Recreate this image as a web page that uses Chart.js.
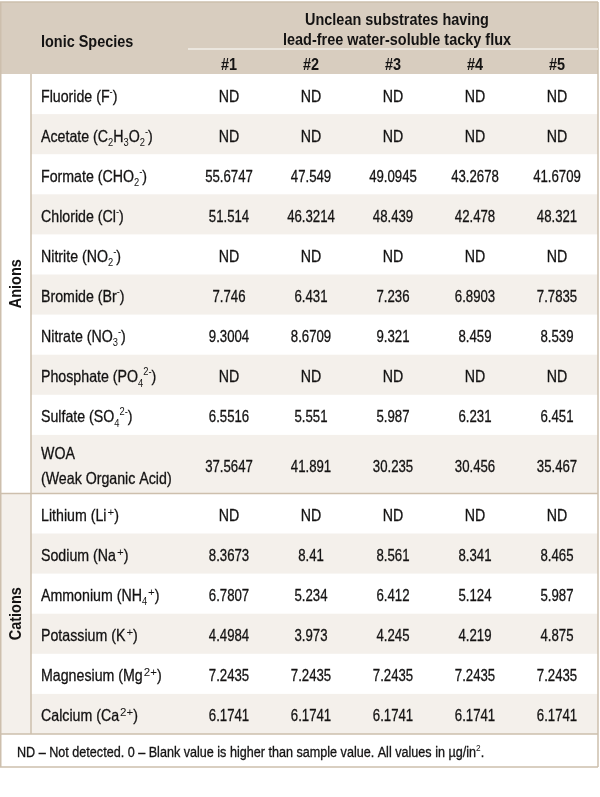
<!DOCTYPE html>
<html>
<head>
<meta charset="utf-8">
<title>Ionic species on unclean substrates</title>
<script src="https://cdn.jsdelivr.net/npm/chart.js@4.4.1/dist/chart.umd.min.js"></script>
<style>
  html, body { margin: 0; padding: 0; background: #fff; }
  #wrap { width: 600px; height: 797px; }
</style>
</head>
<body>
<div id="wrap"><canvas id="ionTable" width="600" height="797"></canvas></div>
<script>
// ---- data (ND = null) ----
const species = [
  'Fluoride (F^{-})', 'Acetate (C_{2}H_{3}O_{2}^{-})', 'Formate (CHO_{2}^{-})', 'Chloride (Cl^{-})',
  'Nitrite (NO_{2}^{-})', 'Bromide (Br^{-})', 'Nitrate (NO_{3}^{-})', 'Phosphate (PO_{4}^{2-})',
  'Sulfate (SO_{4}^{2-})', 'WOA\n(Weak Organic Acid)',
  'Lithium (Li^{+})', 'Sodium (Na^{+})', 'Ammonium (NH_{4}^{+})', 'Potassium (K^{+})',
  'Magnesium (Mg^{2+})', 'Calcium (Ca^{2+})'
];
const groups = ['Anions', 'Cations'];
const groupSizes = [10, 6];
const sampleLabels = ['#1', '#2', '#3', '#4', '#5'];
const sample1 = [null, null, 55.6747, 51.514, null, 7.746, 9.3004, null, 6.5516, 37.5647, null, 8.3673, 6.7807, 4.4984, 7.2435, 6.1741];
const sample2 = [null, null, 47.549, 46.3214, null, 6.431, 8.6709, null, 5.551, 41.891, null, 8.41, 5.234, 3.973, 7.2435, 6.1741];
const sample3 = [null, null, 49.0945, 48.439, null, 7.236, 9.321, null, 5.987, 30.235, null, 8.561, 6.412, 4.245, 7.2435, 6.1741];
const sample4 = [null, null, 43.2678, 42.478, null, 6.8903, 8.459, null, 6.231, 30.456, null, 8.341, 5.124, 4.219, 7.2435, 6.1741];
const sample5 = [null, null, 41.6709, 48.321, null, 7.7835, 8.539, null, 6.451, 35.467, null, 8.465, 5.987, 4.875, 7.2435, 6.1741];
const samples = [sample1, sample2, sample3, sample4, sample5];
const headerTitle = ['Unclean substrates having', 'lead-free water-soluble tacky flux'];
const footnote = 'ND \u2013 Not detected. 0 \u2013 Blank value is higher than sample value. All values in \u00b5g/in^{2}.';

// ---- layout (scale units) ----
const groupW = 31, labelW = 157, dataW = 82;
const headTop = 2, headMid = 49, headBot = 74;
const rowH = 40.1, tallRowH = 58.5, footH = 33;
const colLeft = groupW + labelW;
const tableRight = colLeft + dataW * sampleLabels.length;
const colCenters = sampleLabels.map((_, i) => colLeft + dataW * (i + 0.5));

const rowTops = [];
let acc = headBot;
species.forEach(s => {
  rowTops.push(acc);
  acc += s.includes('\n') ? tallRowH : rowH;
});
const tableBottom = acc;
const rowBottoms = rowTops.map((t, i) => i + 1 < rowTops.length ? rowTops[i + 1] : tableBottom);
const rowMids = rowTops.map((t, i) => (t + rowBottoms[i]) / 2);

const headBg = '#d8cdbf';
const stripeBg = '#f4f0eb';
const lineColor = '#cdbfad';
const textColor = '#141313';
const FAM = '"Liberation Sans", Arial, sans-serif';
const fontOf = (size, bold) => (bold ? 'bold ' : '') + size + 'px ' + FAM;

// tiny rich-text: _{sub} ^{sup}, drawn horizontally squeezed to look condensed
function parseRich(str) {
  const parts = [];
  const re = /([_^])\{([^}]*)\}/g;
  let last = 0, m;
  while ((m = re.exec(str))) {
    if (m.index > last) parts.push({ t: str.slice(last, m.index), k: '' });
    parts.push({ t: m[2], k: m[1] });
    last = re.lastIndex;
  }
  if (last < str.length) parts.push({ t: str.slice(last), k: '' });
  return parts;
}
function drawRich(ctx, str, x, baseY, size, bold, align, cond) {
  const parts = parseRich(str);
  let w = 0;
  parts.forEach(p => {
    // charges (+) are set a bit larger and unsqueezed, like the source
    const big = p.k === '^' && p.t.includes('+');
    p.size = p.k ? size * (big ? 0.7 : 0.66) : size;
    p.cond = big ? 1 : cond;
    p.pad = big ? 1 : 0;
    ctx.font = fontOf(p.size, bold);
    p.w = ctx.measureText(p.t).width * p.cond + p.pad;
    w += p.w;
  });
  let cx = align === 'center' ? x - w / 2 : x;
  ctx.textAlign = 'left';
  ctx.textBaseline = 'alphabetic';
  ctx.strokeStyle = ctx.fillStyle;
  ctx.lineWidth = 0.3;
  parts.forEach(p => {
    ctx.font = fontOf(p.size, bold);
    const dy = p.k === '_' ? size * 0.26 : p.k === '^' ? -size * (p.cond === 1 ? 0.32 : 0.42) : 0;
    ctx.save();
    ctx.translate(cx + p.pad, baseY + dy);
    ctx.scale(p.cond, 1);
    ctx.fillText(p.t, 0, 0);
    if (!bold && !p.k) ctx.strokeText(p.t, 0, 0);
    ctx.restore();
    cx += p.w;
  });
}

const tablePlugin = {
  id: 'tableGrid',
  beforeDatasetsDraw(chart) {
    const { ctx, scales: { x, y } } = chart;
    const X = v => x.getPixelForValue(v), Y = v => y.getPixelForValue(v);
    ctx.save();
    // header band
    ctx.fillStyle = headBg;
    ctx.fillRect(X(0), Y(headTop), X(tableRight) - X(0), Y(headBot) - Y(headTop));
    // striped rows
    ctx.fillStyle = stripeBg;
    let start = 0;
    groupSizes.forEach((n, g) => {
      for (let i = 0; i < n; i++) {
        if (i % 2 === 1) {
          const r = start + i;
          ctx.fillRect(X(groupW), Y(rowTops[r]), X(tableRight) - X(groupW), Y(rowBottoms[r]) - Y(rowTops[r]));
        }
      }
      if (g === 1) {
        ctx.fillRect(X(0), Y(rowTops[start]), X(groupW) - X(0), Y(rowBottoms[start + n - 1]) - Y(rowTops[start]));
      }
      start += n;
    });
    // lines
    ctx.strokeStyle = lineColor;
    ctx.lineWidth = 1.5;
    const hline = (v, x0, x1) => { ctx.beginPath(); ctx.moveTo(X(x0), Y(v)); ctx.lineTo(X(x1), Y(v)); ctx.stroke(); };
    const vline = (v, y0, y1) => { ctx.beginPath(); ctx.moveTo(X(v), Y(y0)); ctx.lineTo(X(v), Y(y1)); ctx.stroke(); };
    vline(groupW, headBot, tableBottom);
    hline(rowTops[groupSizes[0]], 0, tableRight);
    hline(tableBottom, 0, tableRight);
    hline(tableBottom + footH, 0, tableRight);
    vline(0.75, headTop, tableBottom + footH);
    vline(tableRight, headTop, tableBottom + footH);
    hline(headTop, 0, tableRight);
    // light rule under the header title
    ctx.strokeStyle = '#f2eee8';
    ctx.lineWidth = 1.5;
    hline(headMid, colLeft, tableRight);
    ctx.restore();
  },
  afterDatasetsDraw(chart) {
    const { ctx, scales: { x, y } } = chart;
    const X = v => x.getPixelForValue(v), Y = v => y.getPixelForValue(v);
    ctx.save();
    ctx.fillStyle = textColor;
    // header
    drawRich(ctx, 'Ionic Species', X(groupW + 10), Y(headTop + 45), 17, true, 'left', 0.85);
    const midX = X((colLeft + tableRight) / 2);
    drawRich(ctx, headerTitle[0], midX + 4, Y(headTop + 22.5), 17, true, 'center', 0.85);
    drawRich(ctx, headerTitle[1], midX + 4, Y(headTop + 42.5), 17, true, 'center', 0.85);
    sampleLabels.forEach((s, i) => drawRich(ctx, s, X(colCenters[i]), Y(headMid + 20.5), 17, true, 'center', 0.85));
    // species labels
    species.forEach((s, i) => {
      const lines = s.split('\n');
      lines.forEach((ln, k) => {
        const off = (k - (lines.length - 1) / 2) * 25;
        drawRich(ctx, ln, X(groupW + 10), Y(rowMids[i] + off + 7.5), 16.5, false, 'left', 0.86);
      });
    });
    // values at scatter element positions
    chart.data.datasets.forEach((ds, d) => {
      chart.getDatasetMeta(d).data.forEach((pt, i) => {
        const v = ds.data[i].v;
        drawRich(ctx, v === null ? 'ND' : String(v), pt.x, pt.y + 7.5, 16.5, false, 'center', v === null ? 0.86 : 0.8);
      });
    });
    // rotated group labels
    let start = 0;
    groupSizes.forEach((n, g) => {
      const cy = Y((rowTops[start] + rowBottoms[start + n - 1]) / 2);
      ctx.save();
      ctx.translate(X(groupW / 2), cy);
      ctx.rotate(-Math.PI / 2);
      ctx.scale(0.85, 1);
      ctx.font = fontOf(17, true);
      ctx.textAlign = 'center';
      ctx.textBaseline = 'middle';
      ctx.fillText(groups[g], 0, 1);
      ctx.restore();
      start += n;
    });
    // footnote
    drawRich(ctx, footnote, X(17), Y(tableBottom + 22.5), 14, false, 'left', 0.9);
    ctx.restore();
  }
};

new Chart(document.getElementById('ionTable'), {
  type: 'scatter',
  data: {
    datasets: samples.map((vals, c) => ({
      label: sampleLabels[c],
      data: vals.map((v, i) => ({ x: colCenters[c], y: rowMids[i], v: v })),
      pointRadius: 0,
      pointHoverRadius: 0
    }))
  },
  options: {
    responsive: false,
    animation: false,
    layout: { padding: 0 },
    plugins: { legend: { display: false }, tooltip: { enabled: false } },
    scales: {
      x: { type: 'linear', display: false, min: 0, max: 600 },
      y: { type: 'linear', display: false, min: 0, max: 797, reverse: true }
    }
  },
  plugins: [tablePlugin]
});
</script>
</body>
</html>
